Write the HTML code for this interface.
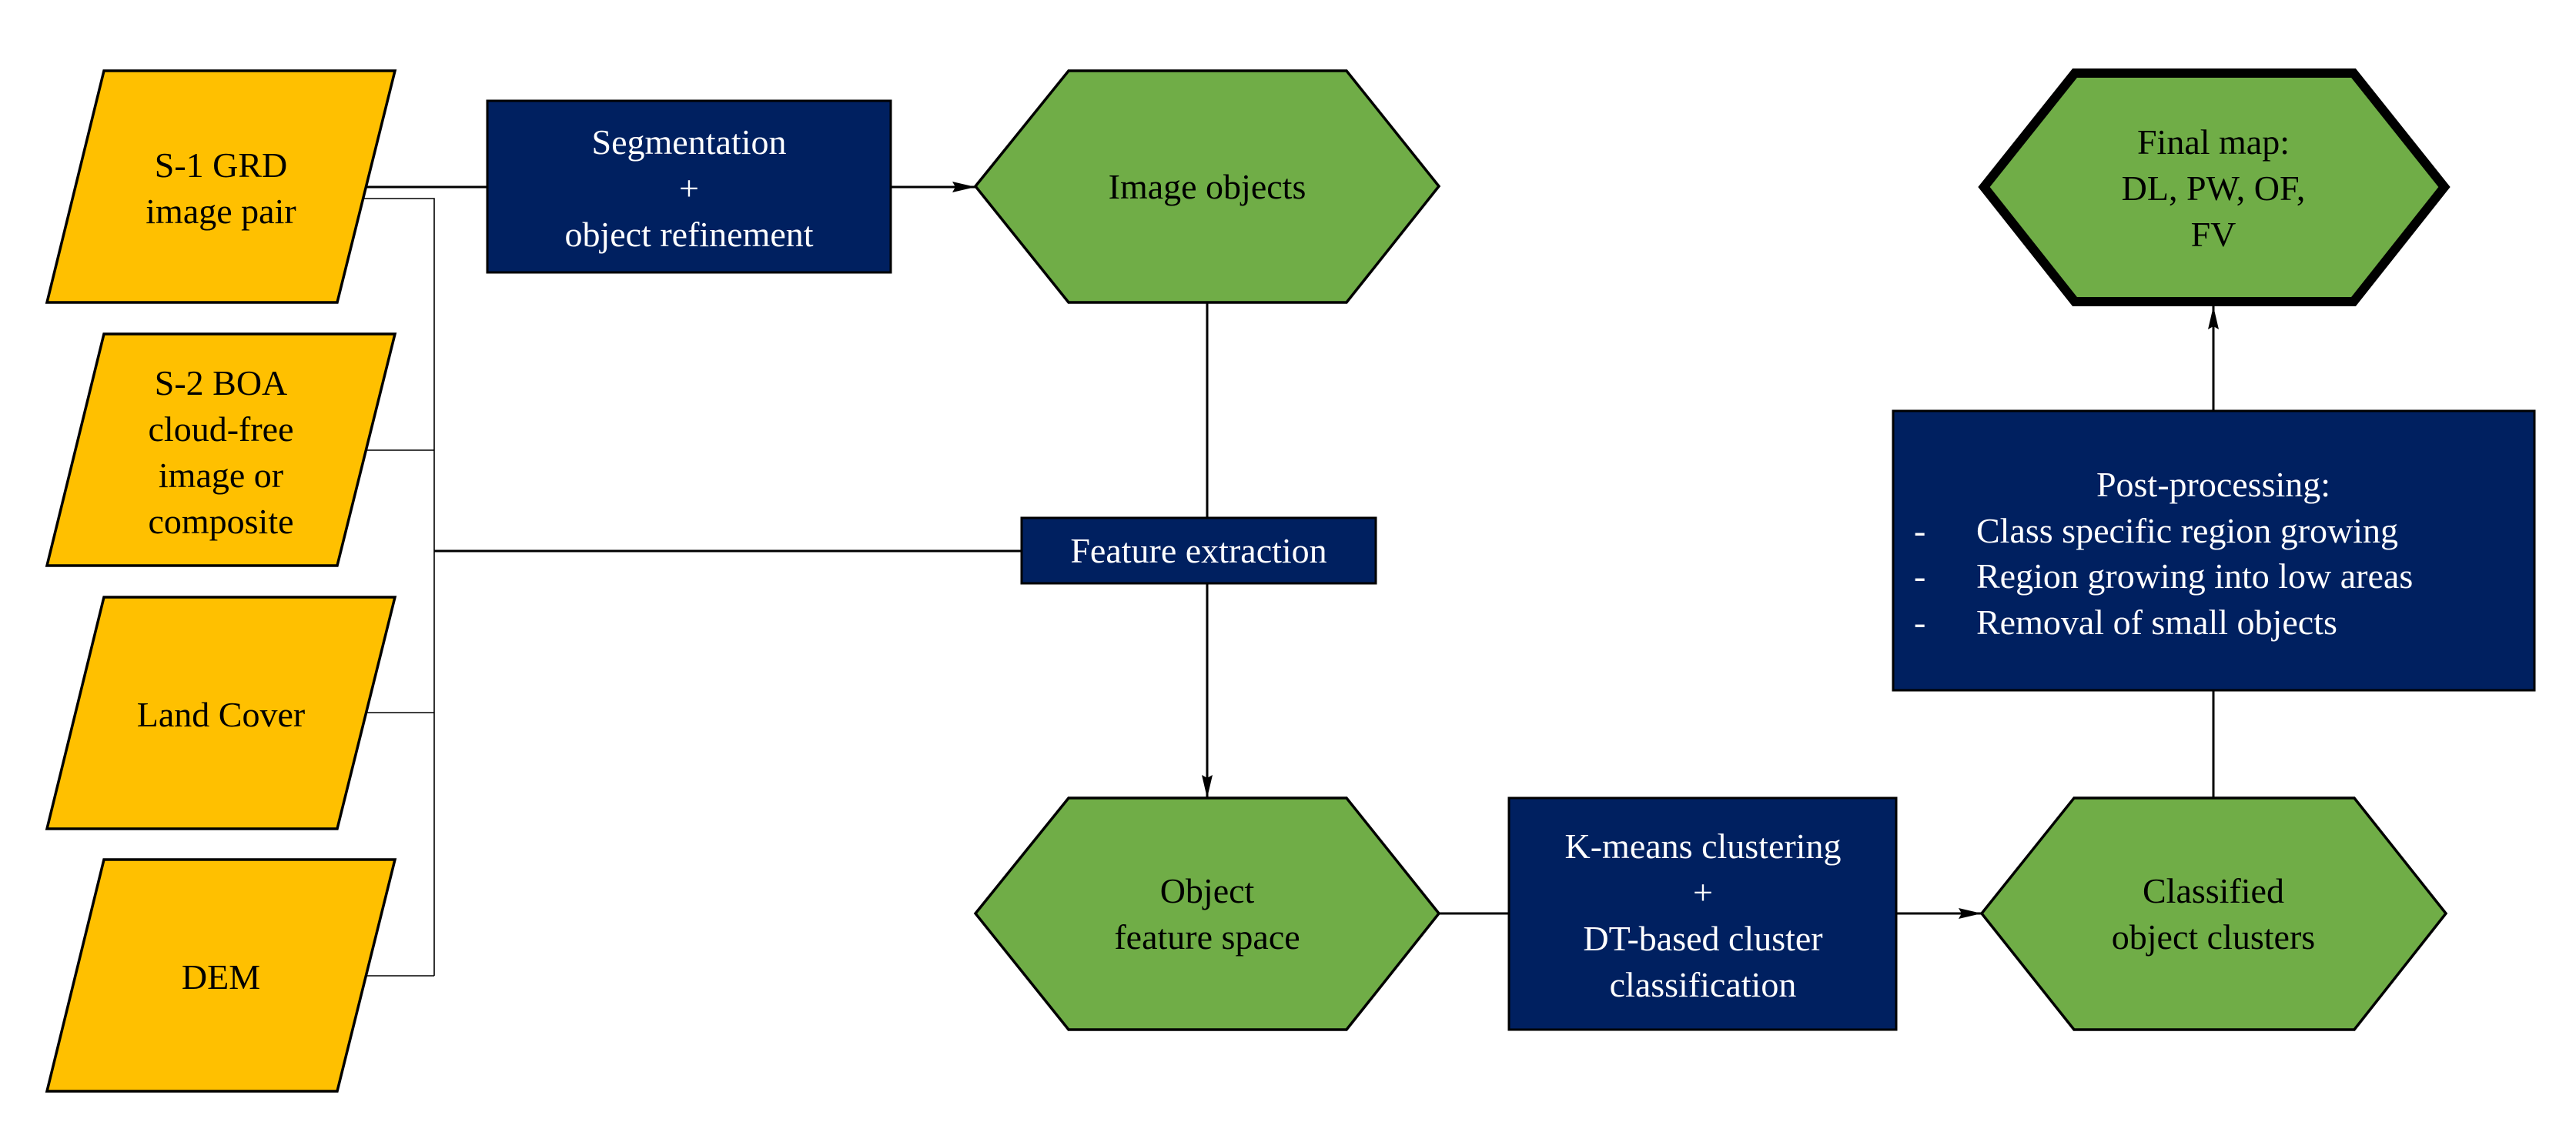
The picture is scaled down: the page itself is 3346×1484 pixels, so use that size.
<!DOCTYPE html>
<html><head><meta charset="utf-8"><style>
html,body{margin:0;padding:0;background:#fff;}
svg{display:block;}
svg text{font-family:"Liberation Serif","DejaVu Serif",serif;font-size:46px;}
</style></head><body>
<svg width="3346" height="1484" viewBox="0 0 3346 1484" xmlns="http://www.w3.org/2000/svg" font-family="Liberation Serif, DejaVu Serif, serif" font-size="46">
<defs>
<marker id="ah2" viewBox="0 0 30 14" markerWidth="30" markerHeight="14" refX="30" refY="7" orient="auto" markerUnits="userSpaceOnUse">
<path d="M0,0 L30,7 L0,14 L4,7 Z" fill="#000"/>
</marker>
</defs>

<g stroke="#000" fill="none">
<line x1="470" y1="243" x2="633" y2="243" stroke-width="3"/>
<line x1="1157" y1="243" x2="1267" y2="243" stroke-width="3" marker-end="url(#ah2)"/>
<polyline points="468,258 564,258 564,1268" stroke-width="1.6"/>
<line x1="462" y1="585" x2="564" y2="585" stroke-width="1.6"/>
<line x1="462" y1="926" x2="564" y2="926" stroke-width="1.6"/>
<line x1="462" y1="1268" x2="564" y2="1268" stroke-width="1.6"/>
<line x1="564" y1="716" x2="1327" y2="716" stroke-width="3"/>
<line x1="1568" y1="393" x2="1568" y2="673" stroke-width="3"/>
<line x1="1568" y1="758" x2="1568" y2="1037" stroke-width="3" marker-end="url(#ah2)"/>
<line x1="1869" y1="1187" x2="1960" y2="1187" stroke-width="3"/>
<line x1="2463" y1="1187" x2="2574" y2="1187" stroke-width="3" marker-end="url(#ah2)"/>
<line x1="2875" y1="1037" x2="2875" y2="897" stroke-width="3"/>
<line x1="2875" y1="534" x2="2875" y2="398" stroke-width="3" marker-end="url(#ah2)"/>
</g>

<g fill="#FFC000" stroke="#000" stroke-width="3.5">
<polygon points="135,92 513,92 438,393 61,393"/>
<polygon points="135,434 513,434 438,735 61,735"/>
<polygon points="135,776 513,776 438,1077 61,1077"/>
<polygon points="135,1117 513,1117 438,1418 61,1418"/>
</g>
<g text-anchor="middle" fill="#000" font-family="Liberation Serif, DejaVu Serif, serif">
<text x="287" y="230">S-1 GRD</text>
<text x="287" y="290">image pair</text>
<text x="287" y="513">S-2 BOA</text>
<text x="287" y="573">cloud-free</text>
<text x="287" y="633">image or</text>
<text x="287" y="693">composite</text>
<text x="287" y="944">Land Cover</text>
<text x="287" y="1285">DEM</text>
</g>

<g fill="#002060" stroke="#000" stroke-width="3">
<rect x="633" y="131" width="524" height="223"/>
<rect x="1327" y="673" width="460" height="85"/>
<rect x="1960" y="1037" width="503" height="301"/>
<rect x="2459" y="534" width="833" height="363"/>
</g>
<g text-anchor="middle" fill="#fff" font-family="Liberation Serif, DejaVu Serif, serif">
<text x="895" y="200">Segmentation</text>
<text x="895" y="260">+</text>
<text x="895" y="320">object refinement</text>
<text x="1557" y="731">Feature extraction</text>
<text x="2212" y="1115">K-means clustering</text>
<text x="2212" y="1175">+</text>
<text x="2212" y="1235">DT-based cluster</text>
<text x="2212" y="1295">classification</text>
<text x="2875" y="645">Post-processing:</text>
</g>
<g fill="#fff" font-family="Liberation Serif, DejaVu Serif, serif">
<text x="2486" y="705">-</text><text x="2567" y="705">Class specific region growing</text>
<text x="2486" y="764">-</text><text x="2567" y="764">Region growing into low areas</text>
<text x="2486" y="824">-</text><text x="2567" y="824">Removal of small objects</text>
</g>

<g fill="#70AD47" stroke="#000" stroke-width="3.5">
<polygon points="1388,92 1749,92 1869,242 1749,393 1388,393 1267,242"/>
<polygon points="1388,1037 1749,1037 1869,1187 1749,1338 1388,1338 1267,1187"/>
<polygon points="2694,1037 3058,1037 3177,1187 3058,1338 2694,1338 2574,1187"/>
<polygon points="2695,95 3057,95 3175,243 3057,392 2695,392 2577,243" stroke-width="12"/>
</g>
<g text-anchor="middle" fill="#000" font-family="Liberation Serif, DejaVu Serif, serif">
<text x="1568" y="258">Image objects</text>
<text x="1568" y="1173">Object</text>
<text x="1568" y="1233">feature space</text>
<text x="2875" y="1173">Classified</text>
<text x="2875" y="1233">object clusters</text>
<text x="2875" y="200">Final map:</text>
<text x="2875" y="260">DL, PW, OF,</text>
<text x="2875" y="320">FV</text>
</g>
</svg>
</body></html>
